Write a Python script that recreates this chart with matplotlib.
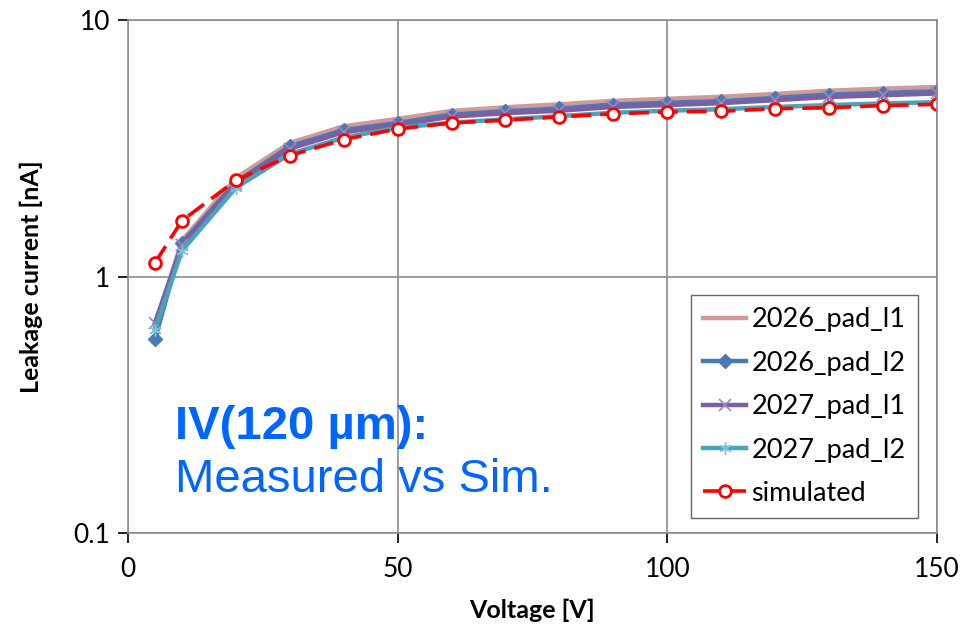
import matplotlib
matplotlib.use("Agg")
import matplotlib.pyplot as plt
from matplotlib.ticker import FixedLocator, FixedFormatter, NullLocator

# bias voltage [V]
voltage = [5, 10, 20, 30, 40, 50, 60, 70, 80, 90, 100, 110, 120, 130, 140, 150]

# leakage current [nA]
pad_2026_l1 = [0.63, 1.38, 2.42, 3.32, 3.85, 4.12, 4.42, 4.57, 4.69, 4.84, 4.93, 5.02, 5.15, 5.30, 5.40, 5.48]
pad_2026_l2 = [0.57, 1.35, 2.33, 3.22, 3.72, 3.97, 4.28, 4.41, 4.52, 4.68, 4.76, 4.83, 4.97, 5.12, 5.20, 5.28]
pad_2027_l1 = [0.66, 1.33, 2.30, 3.15, 3.65, 3.90, 4.20, 4.33, 4.43, 4.58, 4.66, 4.74, 4.87, 5.01, 5.09, 5.17]
pad_2027_l2 = [0.62, 1.26, 2.22, 3.00, 3.48, 3.80, 3.98, 4.10, 4.22, 4.35, 4.43, 4.49, 4.58, 4.66, 4.73, 4.78]
simulated = [1.13, 1.65, 2.37, 2.96, 3.42, 3.76, 3.97, 4.07, 4.19, 4.31, 4.38, 4.41, 4.51, 4.55, 4.64, 4.69]

series_names = ["2026_pad_l1", "2026_pad_l2", "2027_pad_l1", "2027_pad_l2", "simulated"]
x_ticks = [0, 50, 100, 150]
y_ticks = [0.1, 1, 10]
y_tick_labels = ["0.1", "1", "10"]

plt.rcParams["font.family"] = ["Lato", "DejaVu Sans"]

fig = plt.figure(figsize=(9.68, 6.29), dpi=100)
ax = fig.add_axes([0.1322, 0.1526, 0.8357, 0.8156])

lw = 3.2
ax.plot(voltage, pad_2026_l1, color="#CF9A99", lw=lw, label=series_names[0])
ax.plot(voltage, pad_2026_l2, color="#4A79B5", lw=lw, marker="D", ms=7,
        label=series_names[1])
ax.plot(voltage, pad_2027_l1, color="#7B5FA0", lw=lw, marker="x", ms=9, mew=1.2,
        mec="#9C88BC", label=series_names[2])
ax.plot(voltage, pad_2027_l2, color="#4AA3BC", lw=lw, marker=(6, 2, 0), ms=9, mew=1.0,
        mec="#7CC3D6", label=series_names[3])
ax.plot(voltage, simulated, color="#FF0000", lw=2.6, ls=(0, (5.5, 2.5)),
        marker="o", ms=8.5, mfc="white", mec="#FF0000", mew=2.0, label=series_names[4])

ax.set_yscale("log")
ax.set_xlim(0, 150)
ax.set_ylim(0.1, 10)

ax.xaxis.set_major_locator(FixedLocator(x_ticks))
ax.yaxis.set_major_locator(FixedLocator(y_ticks))
ax.yaxis.set_major_formatter(FixedFormatter(y_tick_labels))
ax.yaxis.set_minor_locator(NullLocator())
ax.tick_params(axis="both", labelsize=19, colors="#000000", length=7,
               width=1.2, direction="out")
ax.tick_params(axis="x", pad=10)
ax.tick_params(axis="y", pad=6)
for t in ax.get_xticklines() + ax.get_yticklines():
    t.set_color("#8C8C8C")

ax.grid(True, color="#8C8C8C", lw=1.2)
ax.set_axisbelow(True)
for side in ["left", "bottom", "top", "right"]:
    ax.spines[side].set_color("#8C8C8C")
    ax.spines[side].set_linewidth(1.2)

ax.set_xlabel("Voltage [V]", fontsize=18, fontweight="bold", labelpad=12)
ax.set_ylabel("Leakage current [nA]", fontsize=18, fontweight="bold", labelpad=22)

leg = ax.legend(loc="lower right", bbox_to_anchor=(0.9765, 0.029), borderaxespad=0,
                fontsize=19.5, frameon=True, fancybox=False, handlelength=1.6,
                handletextpad=0.2, labelspacing=0.68, borderpad=0.45)
leg.get_frame().set_edgecolor("#404040")
leg.get_frame().set_linewidth(1.0)

ax.text(0.058, 0.183, "IV(120 µm):", transform=ax.transAxes, color="#0066FF",
        fontsize=34, fontweight="bold", family="Liberation Sans")
ax.text(0.058, 0.08, "Measured vs Sim.", transform=ax.transAxes, color="#0066FF",
        fontsize=34, family="Liberation Sans")

fig.savefig("out.png", dpi=100)
